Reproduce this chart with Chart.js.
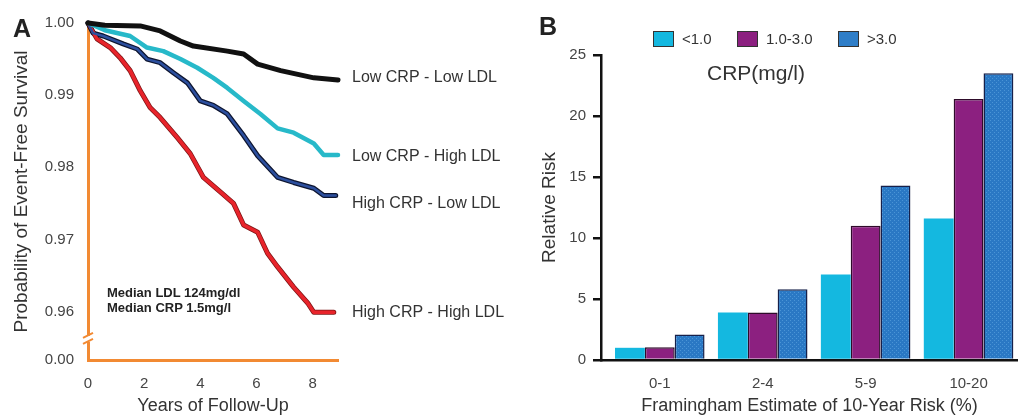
<!DOCTYPE html>
<html>
<head>
<meta charset="utf-8">
<script src="https://cdn.jsdelivr.net/npm/chart.js@4.4.1/dist/chart.umd.min.js"></script>
<style>
    html, body { margin: 0; padding: 0; background: #fff; }
    body { width: 1018px; height: 417px; position: relative; overflow: hidden; font-family: "Liberation Sans", Arial, sans-serif; color: #333; }
    #wrapA { position: absolute; left: 0; top: 0; width: 530px; height: 417px; }
    #wrapB { position: absolute; left: 530px; top: 0; width: 488px; height: 417px; }
    .letra { position: absolute; font-weight: bold; font-size: 25px; color: #222; }
    .mediana { position: absolute; left: 107px; font-weight: bold; font-size: 13px; color: #222; }
    .leg-caixa { position: absolute; top: 31px; width: 19px; height: 14px; border: 1px solid #333; }
    .leg-texto { position: absolute; top: 30px; font-size: 15px; color: #333; }
    #crpTitulo { position: absolute; left: 707px; top: 61px; font-size: 21px; color: #333; }
</style>
</head>
<body>
<div id="wrapA"><canvas id="graficoA"></canvas></div>
<div id="wrapB"><canvas id="graficoB"></canvas></div>
<div class="letra" style="left:13px; top:14px;">A</div>
<div class="letra" style="left:539px; top:12px;">B</div>
<div class="mediana" style="top:285px;">Median LDL 124mg/dl</div>
<div class="mediana" style="top:300px;">Median CRP 1.5mg/l</div>
<div id="legendaB"></div>
<div id="crpTitulo">CRP(mg/l)</div>
<script>
// ===== PAINEL A: sobrevida livre de eventos =====

const nomesCurvas = ['Low CRP - Low LDL', 'Low CRP - High LDL', 'High CRP - Low LDL', 'High CRP - High LDL'];

const anosBaixoBaixo = [0, 0.6, 1.86, 2.57, 3.29, 3.75, 4.96, 5.54, 6.04, 6.86, 8.04, 8.9];
const sobrevBaixoBaixo = [1.0, 0.9997, 0.9996, 0.9989, 0.9975, 0.9968, 0.9961, 0.9957, 0.9943, 0.9934, 0.9924, 0.9921];

const anosBaixoAlto = [0, 0.6, 1.5, 2.1, 2.68, 3.29, 3.89, 4.46, 4.96, 5.54, 6.14, 6.75, 7.32, 8.04, 8.39, 8.9];
const sobrevBaixoAlto = [1.0, 0.9990, 0.9982, 0.9966, 0.9961, 0.9950, 0.9938, 0.9924, 0.9910, 0.9892, 0.9874, 0.9854, 0.9848, 0.9833, 0.9817, 0.9817];

const anosAltoBaixo = [0, 0.18, 0.54, 1.25, 1.75, 2.1, 2.57, 3.04, 3.54, 4.0, 4.46, 4.96, 5.54, 6.04, 6.75, 7.32, 8.04, 8.39, 8.82];
const sobrevAltoBaixo = [1.0, 0.9986, 0.9982, 0.9971, 0.9964, 0.9950, 0.9945, 0.9931, 0.9917, 0.9892, 0.9886, 0.9874, 0.9844, 0.9816, 0.9786, 0.9779, 0.9771, 0.9761, 0.9761];

const anosAltoAlto = [0, 0.32, 0.79, 1.14, 1.5, 1.86, 2.21, 2.57, 3.18, 3.64, 4.11, 4.71, 5.18, 5.54, 6.04, 6.39, 6.75, 7.32, 7.82, 8.04, 8.75];
const sobrevAltoAlto = [1.0, 0.9978, 0.9966, 0.9952, 0.9934, 0.9906, 0.9883, 0.9869, 0.9841, 0.9819, 0.9786, 0.9766, 0.9750, 0.9720, 0.9710, 0.9681, 0.9662, 0.9634, 0.9612, 0.9599, 0.9599];

const ticksAnos = [0, 2, 4, 6, 8];
const ticksSobrev = [0.96, 0.97, 0.98, 0.99, 1.00];
const inicioQuebra = 0.9533;   // valor do eixo onde aparece "0.00"

// ===== PAINEL B: risco relativo =====

const categorias = ['0-1', '2-4', '5-9', '10-20'];
const faixasCrp = ['<1.0', '1.0-3.0', '>3.0'];
const riscoCrpBaixo = [1.0, 3.9, 7.0, 11.6];
const riscoCrpMedio = [1.05, 3.9, 11.0, 21.4];
const riscoCrpAlto = [2.1, 5.8, 14.3, 23.5];
const ticksRisco = [0, 5, 10, 15, 20, 25];

const LARANJA = '#f28a33';
const FONTE = '"Liberation Sans", Arial, sans-serif';

function pontos(xs, ys) {
    return xs.map((x, i) => ({ x, y: ys[i] }));
}

function linha(dados, cor, largura, ordem, nome) {
    return {
        label: nome,
        data: dados,
        borderColor: cor,
        borderWidth: largura,
        pointRadius: 0,
        tension: 0,
        fill: false,
        clip: 10,
        order: ordem,
        borderJoinStyle: 'round',
        borderCapStyle: 'round'
    };
}

const dBB = pontos(anosBaixoBaixo, sobrevBaixoBaixo);
const dBA = pontos(anosBaixoAlto, sobrevBaixoAlto);
const dAB = pontos(anosAltoBaixo, sobrevAltoBaixo);
const dAA = pontos(anosAltoAlto, sobrevAltoAlto);

// rótulos no fim de cada curva + quebra do eixo
const desvioRotulo = [-2, 2, 8, 0];
const pluginRotulosA = {
    id: 'rotulosA',
    afterDraw(chart) {
        const ctx = chart.ctx;
        const sx = chart.scales.x, sy = chart.scales.y;
        const series = [dBB, dBA, dAB, dAA];
        ctx.save();
        ctx.font = '16px ' + FONTE;
        ctx.fillStyle = '#333';
        ctx.textBaseline = 'middle';
        series.forEach((s, i) => {
            const ult = s[s.length - 1];
            ctx.fillText(nomesCurvas[i], sx.getPixelForValue(8.9) + 14, sy.getPixelForValue(ult.y) + desvioRotulo[i]);
        });
        // quebra do eixo y
        const yq = sy.getPixelForValue((inicioQuebra + 0.96) / 2) + 3;
        const xq = chart.chartArea.left;
        ctx.fillStyle = '#fff';
        ctx.fillRect(xq - 4, yq - 3, 8, 6);
        ctx.strokeStyle = LARANJA;
        ctx.lineWidth = 2;
        ctx.beginPath();
        ctx.moveTo(xq - 5, yq - 1); ctx.lineTo(xq + 5, yq - 6);
        ctx.moveTo(xq - 5, yq + 5); ctx.lineTo(xq + 5, yq);
        ctx.stroke();
        ctx.restore();
    }
};

new Chart(document.getElementById('graficoA'), {
    type: 'line',
    data: {
        datasets: [
            linha(dBB, '#111111', 5, 1, nomesCurvas[0]),
            linha(dBA, '#27b9c9', 4.5, 1, nomesCurvas[1]),
            linha(dAB, '#2c4f9e', 2.5, 1, nomesCurvas[2]),
            linha(dAB, '#0d1530', 5, 3, 'contorno'),
            linha(dAA, '#e8242b', 3.5, 1, nomesCurvas[3]),
            linha(dAA, '#7d1414', 5, 3, 'contorno')
        ]
    },
    options: {
        responsive: true,
        maintainAspectRatio: false,
        animation: false,
        events: [],
        layout: { padding: { top: 22, right: 192, bottom: 0, left: 0 } },
        plugins: { legend: { display: false }, tooltip: { enabled: false } },
        scales: {
            x: {
                type: 'linear',
                min: 0,
                max: 8.9,
                afterBuildTicks: s => { s.ticks = ticksAnos.map(v => ({ value: v })); },
                afterFit: s => { s.height = 57; },
                grid: { display: false, drawTicks: false },
                border: { display: true, color: LARANJA, width: 3 },
                ticks: { color: '#444', font: { family: FONTE, size: 15 }, padding: 15 },
                title: { display: true, text: 'Years of Follow-Up', color: '#333', font: { family: FONTE, size: 18 }, padding: 0 }
            },
            y: {
                min: inicioQuebra,
                max: 1.0,
                afterBuildTicks: s => { s.ticks = [inicioQuebra].concat(ticksSobrev).map(v => ({ value: v })); },
                afterFit: s => { s.width = 88; },
                grid: { display: false, drawTicks: false },
                border: { display: true, color: LARANJA, width: 3 },
                ticks: {
                    color: '#444',
                    font: { family: FONTE, size: 15 },
                    padding: 14,
                    callback: v => (v < 0.955 ? '0.00' : v.toFixed(2))
                },
                title: { display: true, text: 'Probability of Event-Free Survival', color: '#333', font: { family: FONTE, size: 19 }, padding: { top: 10, bottom: 0 } }
            }
        }
    },
    plugins: [pluginRotulosA]
});

// ===== Gráfico de barras =====

const ctxB = document.getElementById('graficoB').getContext('2d');

function padraoPontilhado(base, ponto) {
    const c = document.createElement('canvas');
    c.width = 4; c.height = 4;
    const g = c.getContext('2d');
    g.fillStyle = base;
    g.fillRect(0, 0, 4, 4);
    g.fillStyle = ponto;
    g.fillRect(0, 0, 1, 1);
    g.fillRect(2, 2, 1, 1);
    return ctxB.createPattern(c, 'repeat');
}

const coresBarras = ['#14b8e0', '#8c2080', padraoPontilhado('#2a78c4', '#4a94d6')];
const coresLegenda = ['#14b8e0', '#8c2080', '#2f7ec8'];
const bordasBarras = ['#3fc4e6', '#2e0b2a', '#16204a'];

function barras(valores, i) {
    return {
        label: faixasCrp[i],
        data: valores.map((v, k) => ({ x: k, y: v })),
        backgroundColor: coresBarras[i],
        borderColor: bordasBarras[i],
        borderWidth: i === 0 ? 0 : 1.5
    };
}

new Chart(ctxB, {
    type: 'bar',
    data: {
        datasets: [barras(riscoCrpBaixo, 0), barras(riscoCrpMedio, 1), barras(riscoCrpAlto, 2)]
    },
    options: {
        responsive: true,
        maintainAspectRatio: false,
        animation: false,
        events: [],
        layout: { padding: { top: 55, right: 0, bottom: 0, left: 0 } },
        categoryPercentage: 0.87,
        barPercentage: 1.0,
        plugins: { legend: { display: false }, tooltip: { enabled: false } },
        scales: {
            x: {
                type: 'linear',
                offset: false,
                min: -0.571,
                max: 3.48,
                afterBuildTicks: s => { s.ticks = categorias.map((c, k) => ({ value: k })); },
                afterFit: s => { s.height = 57; },
                grid: { display: false, drawTicks: false },
                border: { display: true, color: '#111', width: 2.5 },
                ticks: { color: '#444', font: { family: FONTE, size: 15 }, padding: 15, callback: v => categorias[v] },
                title: { display: true, text: 'Framingham Estimate of 10-Year Risk (%)', color: '#333', font: { family: FONTE, size: 18 }, padding: 0 }
            },
            y: {
                min: 0,
                max: 25,
                afterBuildTicks: s => { s.ticks = ticksRisco.map(v => ({ value: v })); },
                afterFit: s => { s.width = 71; },
                grid: { display: true, drawOnChartArea: false, drawTicks: true, tickLength: 8, color: '#111', lineWidth: 2.5 },
                border: { display: true, color: '#111', width: 2.5 },
                ticks: { color: '#444', font: { family: FONTE, size: 15 }, padding: 7 },
                title: { display: true, text: 'Relative Risk', color: '#333', font: { family: FONTE, size: 19 }, padding: { top: 8, bottom: 0 } }
            }
        }
    }
});

// Legenda do painel B
const legenda = document.getElementById('legendaB');
const posCaixas = [653, 737, 838];
faixasCrp.forEach((f, i) => {
    const caixa = document.createElement('div');
    caixa.className = 'leg-caixa';
    caixa.style.left = posCaixas[i] + 'px';
    caixa.style.background = coresLegenda[i];
    legenda.appendChild(caixa);
    const texto = document.createElement('div');
    texto.className = 'leg-texto';
    texto.style.left = (posCaixas[i] + 29) + 'px';
    texto.textContent = f;
    legenda.appendChild(texto);
});
</script>
</body>
</html>
